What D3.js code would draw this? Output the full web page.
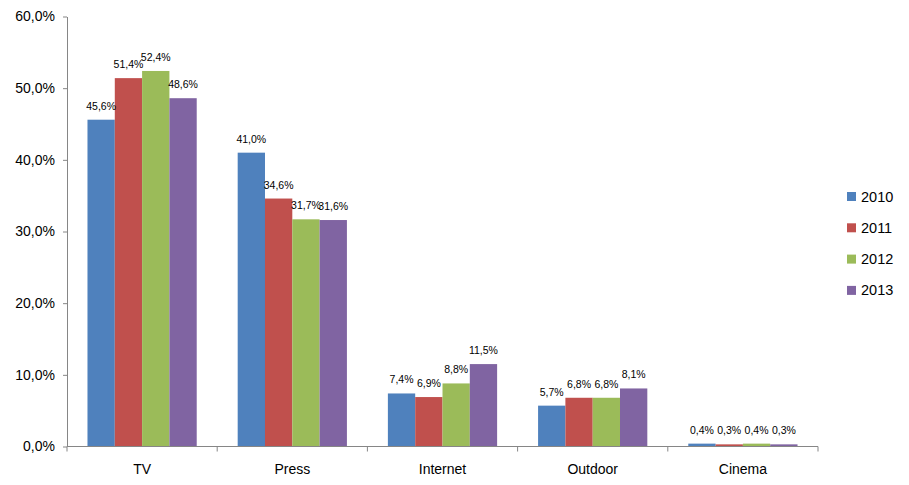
<!DOCTYPE html>
<html><head><meta charset="utf-8">
<script src="https://cdn.jsdelivr.net/npm/d3@7"></script>
<style>body{margin:0;background:#fff}svg{display:block}text{font-family:"Liberation Sans",Arial,sans-serif}</style>
</head><body>
<svg id="c" width="909" height="485"></svg>
<script>
const categories = ["TV","Press","Internet","Outdoor","Cinema"];
const years = ["2010","2011","2012","2013"];
const s2010 = [45.6, 41.0, 7.4, 5.7, 0.4];
const s2011 = [51.4, 34.6, 6.9, 6.8, 0.3];
const s2012 = [52.4, 31.7, 8.8, 6.8, 0.4];
const s2013 = [48.6, 31.6, 11.5, 8.1, 0.3];
const yTicks = [0,10,20,30,40,50,60];
const colors = ["#4F81BD","#C0504D","#9BBB59","#8064A2"];
const series = [s2010, s2011, s2012, s2013];

const svg = d3.select("#c");
const x0 = 67, x1 = 818, yTop = 16.5, yBot = 446.5;
const x = d3.scaleBand().domain(categories).range([x0, x1]).paddingInner(0).paddingOuter(0);
const y = d3.scaleLinear().domain([0,60]).range([yBot, yTop]);
const inner = d3.scaleBand().domain(years).range([0, x.bandwidth()]).paddingOuter(0.75).paddingInner(0);
const fmt = v => v.toFixed(1).replace(".", ",") + "%";

// bars
categories.forEach((c, ci) => {
  years.forEach((yr, si) => {
    const v = series[si][ci];
    svg.append("rect")
      .attr("x", x(c) + inner(yr))
      .attr("y", y(v))
      .attr("width", inner.bandwidth())
      .attr("height", y(0) - y(v))
      .attr("fill", colors[si]);
  });
});
// labels
categories.forEach((c, ci) => {
  years.forEach((yr, si) => {
    const v = series[si][ci];
    svg.append("text")
      .attr("x", x(c) + inner(yr) + inner.bandwidth()/2)
      .attr("y", y(v) - 10)
      .attr("text-anchor", "middle")
      .attr("font-size", "10.5px")
      .attr("fill", "#000")
      .text(fmt(v));
  });
});

// y axis
const yAxis = d3.axisLeft(y).tickValues(yTicks).tickSize(4).tickSizeOuter(0).tickPadding(8).tickFormat(fmt);
const gy = svg.append("g").attr("transform", `translate(${x0},0)`).call(yAxis);
gy.select(".domain").attr("stroke", "#868686");
gy.selectAll(".tick line").attr("stroke", "#868686");
gy.selectAll(".tick text").attr("font-size", "14px").attr("fill", "#000").attr("font-family", '"Liberation Sans",Arial,sans-serif');

// x axis
const gx = svg.append("g").attr("transform", `translate(0,${yBot})`);
gx.append("line").attr("x1", x0).attr("x2", x1).attr("y1", 0).attr("y2", 0).attr("stroke", "#868686");
const edges = categories.map(c => x(c)).concat([x1]);
gx.selectAll("line.t").data(edges).enter().append("line")
  .attr("x1", d => d).attr("x2", d => d).attr("y1", 0).attr("y2", 5).attr("stroke", "#868686");
gx.selectAll("text").data(categories).enter().append("text")
  .attr("x", d => x(d) + x.bandwidth()/2).attr("y", 27)
  .attr("text-anchor", "middle").attr("font-size", "14px").attr("fill", "#000").text(d => d);

// legend
const lg = svg.append("g");
years.forEach((yr, i) => {
  const cy = 196.5 + i * 31.3;
  lg.append("rect").attr("x", 847).attr("y", cy - 4.5).attr("width", 9).attr("height", 9).attr("fill", colors[i]);
  lg.append("text").attr("x", 861).attr("y", cy + 5).attr("font-size", "14.5px").attr("fill", "#000").text(yr);
});
</script>
</body></html>
